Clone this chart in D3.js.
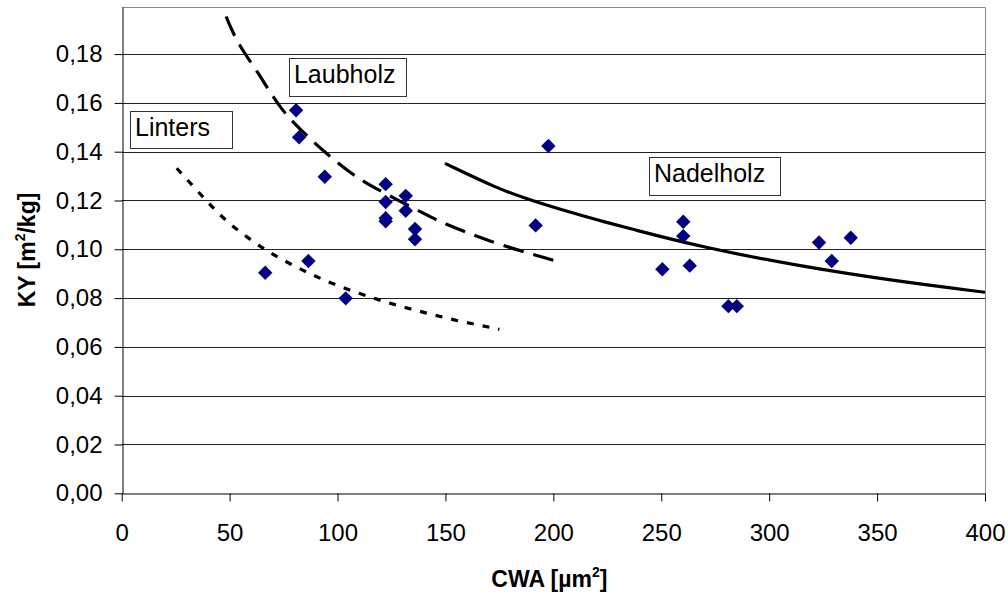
<!DOCTYPE html>
<html>
<head>
<meta charset="utf-8">
<script src="https://cdn.jsdelivr.net/npm/d3@7"></script>
<style>
  body { margin: 0; background: #fff; }
  svg { font-family: "Liberation Sans", Arial, sans-serif; }
</style>
</head>
<body>
<script>
// measured points (CWA in µm², KY in m²/kg)
var cwa = [66.5, 80.8, 82.2, 86.5, 94.1, 103.8, 122.3, 122.3, 122.3, 122.3, 131.6, 131.6, 135.9, 135.9,
           191.8, 197.7, 250.5, 260.2, 260.2, 263.2, 281.1, 285.0, 323.1, 329.0, 337.8];
var ky  = [0.0904, 0.157, 0.1459, 0.0952, 0.1297, 0.0799, 0.1267, 0.1194, 0.1127, 0.1115, 0.1219, 0.1158, 0.1083, 0.1041,
           0.1098, 0.1423, 0.0918, 0.1113, 0.1054, 0.0933, 0.0767, 0.0767, 0.1028, 0.0952, 0.1047];

// trend lines
var laubX = [47.1, 51, 56.3, 63.3, 67.9, 74.6, 81.1, 89.6, 95.7, 105.8, 115.1, 142.9, 150.3, 162.2, 169.9, 182.3, 190.3, 200];
var laubY = [0.1983, 0.1895, 0.1810, 0.1723, 0.1655, 0.1567, 0.1505, 0.1434, 0.1386, 0.1314, 0.1260, 0.1133, 0.1102, 0.1061, 0.1036, 0.1000, 0.0980, 0.0955];

var lintX = [25.5, 33.6, 41.4, 49.1, 58.7, 67.9, 78, 88.5, 98.8, 110.1, 120.8, 131.7, 142.9, 154.1, 165.2, 175];
var lintY = [0.1332, 0.1254, 0.1178, 0.1110, 0.1045, 0.0990, 0.0940, 0.0894, 0.0855, 0.0819, 0.0788, 0.0760, 0.0735, 0.0710, 0.0690, 0.0672];

var nadelX = [149.8, 173.8, 189.2, 204.6, 221.6, 235.5, 268, 314.4, 360.8, 400];
var nadelY = [0.1352, 0.1250, 0.1202, 0.1160, 0.1117, 0.1085, 0.1010, 0.0930, 0.0867, 0.0824];

var xTicks = [0, 50, 100, 150, 200, 250, 300, 350, 400];
var yTicks = [0, 0.02, 0.04, 0.06, 0.08, 0.10, 0.12, 0.14, 0.16, 0.18];

var w = 1008, h = 594;
var pLeft = 121.7, pRight = 985, pTop = 7, pBottom = 493.3;

var x = d3.scaleLinear().domain([0, 400]).range([pLeft, pRight]);
var y = d3.scaleLinear().domain([0, 0.1993]).range([pBottom, pTop]);

var de = d3.formatLocale({decimal: ",", thousands: ".", grouping: [3], currency: ["", "€"]});
var fmtY = de.format(".2f");

var svg = d3.select("body").append("svg")
    .attr("width", w)
    .attr("height", h);

// gridlines
svg.append("g")
    .selectAll("line")
    .data(yTicks.slice(1))
    .enter().append("line")
    .attr("x1", pLeft).attr("x2", pRight)
    .attr("y1", function(d) { return Math.round(y(d)) + 0.5; })
    .attr("y2", function(d) { return Math.round(y(d)) + 0.5; })
    .attr("stroke", "#222")
    .attr("stroke-width", 1);

// frame top + right (grey)
svg.append("path")
    .attr("d", "M" + pLeft + "," + (pTop + 0.5) + "H" + (Math.round(pRight) + 0.5) + "V" + pBottom)
    .attr("fill", "none")
    .attr("stroke", "#8a8a8a")
    .attr("stroke-width", 1);

// axes
var xAxis = svg.append("g")
    .attr("transform", "translate(0," + (Math.round(pBottom) + 0.5) + ")")
    .call(d3.axisBottom(x).tickValues(xTicks).tickSize(8).tickSizeOuter(0).tickPadding(22).tickFormat(d3.format("d")));
var yAxis = svg.append("g")
    .attr("transform", "translate(" + (Math.round(pLeft) + 0.5) + ",0)")
    .call(d3.axisLeft(y).tickValues(yTicks).tickSize(8).tickSizeOuter(0).tickPadding(12).tickFormat(fmtY));

[xAxis, yAxis].forEach(function(a) {
    a.select(".domain").attr("stroke", "#000");
    a.selectAll(".tick line").attr("stroke", "#000");
    a.selectAll("text")
        .attr("fill", "#000")
        .style("font-size", "24px")
        .style("font-family", "'Liberation Sans', Arial, sans-serif");
});

// clip for trend lines
svg.append("clipPath").attr("id", "plot")
    .append("rect").attr("x", pLeft).attr("y", pTop).attr("width", pRight - pLeft).attr("height", pBottom - pTop);

var line = d3.line()
    .x(function(d) { return x(d[0]); })
    .y(function(d) { return y(d[1]); })
    .curve(d3.curveBasis);

function zip(a, b) { return a.map(function(v, i) { return [v, b[i]]; }); }

var lines = svg.append("g").attr("clip-path", "url(#plot)").attr("fill", "none").attr("stroke", "#000").attr("stroke-width", 3.2);

var laub = lines.append("path")
    .attr("d", line(zip(laubX, laubY)))
    .attr("stroke-dasharray", "21,10");
// make the dashes finish on a full dash at x = 200
var L = laub.node().getTotalLength();
laub.attr("stroke-dashoffset", ((21 - L) % 31 + 31) % 31);

lines.append("path")
    .attr("d", line(zip(lintX, lintY)))
    .attr("stroke-dasharray", "7,9");

lines.append("path")
    .attr("d", line(zip(nadelX, nadelY)));

// markers
var diamond = d3.symbol().type(d3.symbolSquare).size(104);
svg.append("g")
    .selectAll("path")
    .data(zip(cwa, ky))
    .enter().append("path")
    .attr("d", diamond)
    .attr("transform", function(d) { return "translate(" + x(d[0]) + "," + y(d[1]) + ") rotate(45)"; })
    .attr("fill", "#000080");

// labelled boxes (box corners in data units)
var notes = [
    {text: "Laubholz", x0: 77.5, x1: 131.7, y0: 0.1784, y1: 0.1628},
    {text: "Linters", x0: 3.85, x1: 51.1, y0: 0.1566, y1: 0.1415},
    {text: "Nadelholz", x0: 244.3, x1: 305, y0: 0.1378, y1: 0.1222}
];

var note = svg.append("g").selectAll("g")
    .data(notes)
    .enter().append("g");

note.append("rect")
    .attr("x", function(d) { return Math.round(x(d.x0)) + 0.5; })
    .attr("y", function(d) { return Math.round(y(d.y0)) + 0.5; })
    .attr("width", function(d) { return Math.round(x(d.x1) - x(d.x0)); })
    .attr("height", function(d) { return Math.round(y(d.y1) - y(d.y0)); })
    .attr("fill", "#fff")
    .attr("stroke", "#333")
    .attr("stroke-width", 1);

note.append("text")
    .attr("x", function(d) { return x(d.x0) + 5; })
    .attr("y", function(d) { return y(d.y0) + 25; })
    .style("font-size", "25px")
    .attr("fill", "#000")
    .text(function(d) { return d.text; });

// axis titles
var xt = svg.append("text")
    .attr("x", (pLeft + pRight) / 2 - 4)
    .attr("y", 587)
    .attr("text-anchor", "middle")
    .style("font-size", "23px")
    .style("font-weight", "bold");
xt.append("tspan").text("CWA [µm");
xt.append("tspan").attr("dy", -10).style("font-size", "14px").text("2");
xt.append("tspan").attr("dy", 10).text("]");

var yt = svg.append("text")
    .attr("transform", "translate(35,250) rotate(-90)")
    .attr("text-anchor", "middle")
    .style("font-size", "23px")
    .style("font-weight", "bold");
yt.append("tspan").text("KY [m");
yt.append("tspan").attr("dy", -10).style("font-size", "14px").text("2");
yt.append("tspan").attr("dy", 10).text("/kg]");
</script>
</body>
</html>
